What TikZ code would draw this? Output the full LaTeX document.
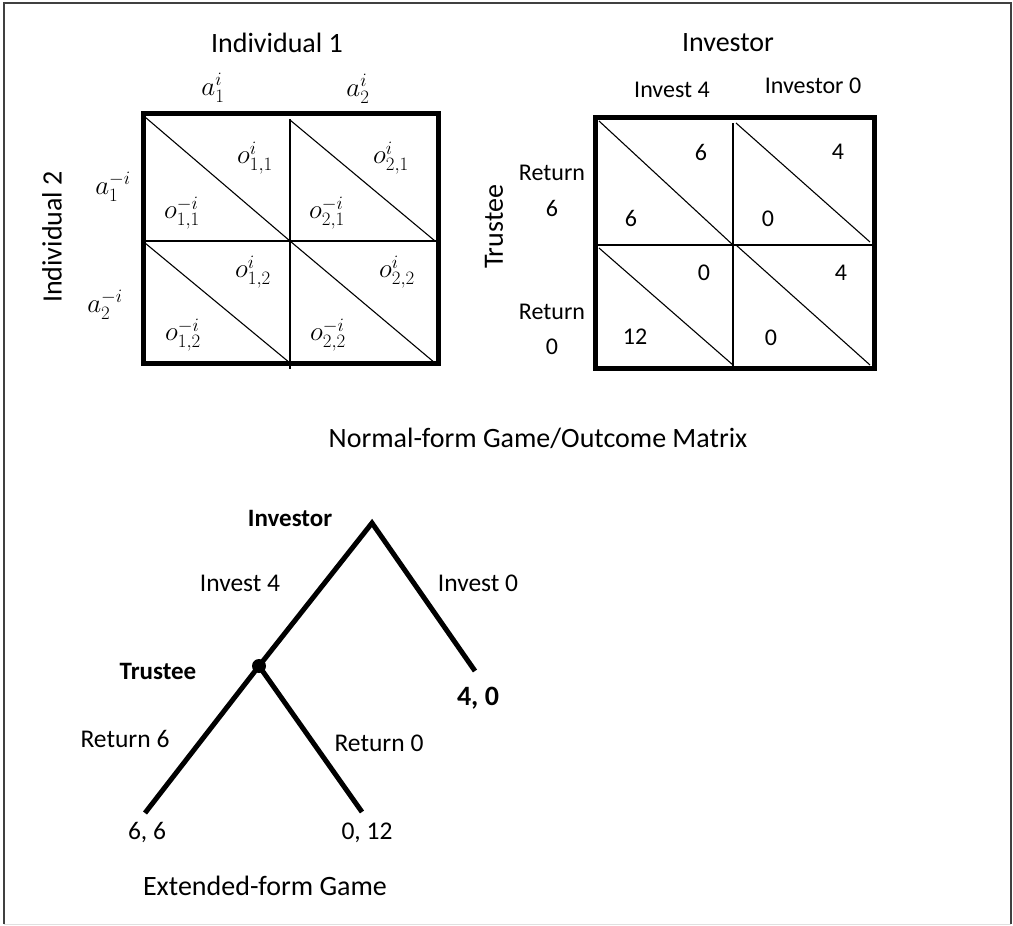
\RequirePackage{fix-cm}
\documentclass[tikz,border=0pt]{standalone}
\usepackage{fontspec}
\setmainfont{Carlito}
\begin{document}
\begin{tikzpicture}[x=1pt,y=-1pt,
  heavy/.style={line width=5pt, line join=miter},
  thin/.style={line width=1.1pt},
  branch/.style={line width=5pt},
  title/.style={font=\fontsize{28}{30}\selectfont, inner sep=0pt},
  lab/.style={font=\fontsize{24}{26}\selectfont, inner sep=0pt},
  treelab/.style={font=\fontsize{25.5}{28}\selectfont, inner sep=0pt},
  boldlab/.style={font=\fontsize{25}{27}\selectfont\bfseries, inner sep=0pt},
  val/.style={font=\fontsize{24}{26}\selectfont, inner sep=0pt},
  mlab/.style={font=\fontsize{27}{29}\selectfont, inner sep=0pt}]
\useasboundingbox (0,0) rectangle (1013,926);

% outer frame
\draw[line width=1.3pt, black!75] (4,924) -- (4,3) -- (1011,3) -- (1011,924);
\draw[line width=1pt, black!12] (4,924) -- (1011,924);

% ---------- generic outcome matrix ----------
\coordinate (A-nw) at (143,113);
\coordinate (A-se) at (438,363);
\draw[heavy] (A-nw) rectangle (A-se);
\draw[thin] (290,119) -- (290,369);
\draw[thin] (145,241) -- (436,241);
\draw[thin] (145,117) -- (290,241);
\draw[thin] (290,120) -- (435,241);
\draw[thin] (145,243) -- (290,363);
\draw[thin] (290,241) -- (435,363);

\node[title] (ind1) at (277,43) {Individual 1};
\node[title, rotate=90] (ind2) at (52,237) {Individual 2};
\node[mlab] (a1) at (213,88) {$a_1^{i}$};
\node[mlab] (a2) at (358,89) {$a_2^{i}$};
\node[mlab] (b1) at (113,187) {$a_1^{-i}$};
\node[mlab] (b2) at (105,305) {$a_2^{-i}$};
\node[mlab] (o11a) at (255,158) {$o_{1,1}^{i}$};
\node[mlab] (o11b) at (182,213) {$o_{1,1}^{-i}$};
\node[mlab] (o21a) at (391,158) {$o_{2,1}^{i}$};
\node[mlab] (o21b) at (327,213) {$o_{2,1}^{-i}$};
\node[mlab] (o12a) at (253,272) {$o_{1,2}^{i}$};
\node[mlab] (o12b) at (183,335) {$o_{1,2}^{-i}$};
\node[mlab] (o22a) at (397,272) {$o_{2,2}^{i}$};
\node[mlab] (o22b) at (328,335) {$o_{2,2}^{-i}$};

% ---------- trust game matrix ----------
\coordinate (B-nw) at (595,117);
\coordinate (B-se) at (874,368);
\draw[heavy] (B-nw) rectangle (B-se);
\draw[thin] (733,123) -- (733,371);
\draw[thin] (597,245) -- (875,245);
\draw[thin] (599,121) -- (733,245);
\draw[thin] (736,123) -- (870,242);
\draw[thin] (599,248) -- (733,365);
\draw[thin] (736,245) -- (870,365);

\node[title] (inv) at (728,43) {Investor};
\node[lab] (inv4) at (672,90) {Invest 4};
\node[lab] (inv0) at (813,86) {Investor 0};
\node[title, rotate=90] (tru) at (494,227) {Trustee};
\node[lab] (r6a) at (552,173) {Return};
\node[lab] (r6b) at (552,208) {6};
\node[lab] (r0a) at (552,312) {Return};
\node[lab] (r0b) at (552,347) {0};
\node[val] (v1) at (701,152) {6};
\node[val] (v2) at (631,218) {6};
\node[val] (v3) at (838,152) {4};
\node[val] (v4) at (768,219) {0};
\node[val] (v5) at (704,273) {0};
\node[val] (v6) at (841,273) {4};
\node[val] (v7) at (635,337) {12};
\node[val] (v8) at (771,338) {0};

\node[title] (nfg) at (538,438) {Normal-form Game/Outcome Matrix};

% ---------- extensive-form tree ----------
\coordinate (root) at (372,523);
\node[circle, fill, inner sep=0pt, minimum size=14pt] (tnode) at (259,666) {};
\coordinate (leafR) at (475,671);
\coordinate (leafA) at (145,813);
\coordinate (leafB) at (362,812);
\draw[branch] (leafA) -- (tnode.center) -- (root) -- (leafR);
\draw[branch] (tnode.center) -- (leafB);

\node[boldlab] (tinv) at (290,518) {Investor};
\node[treelab] (e4) at (240,583) {Invest 4};
\node[treelab] (e0) at (478,583) {Invest 0};
\node[boldlab] (ttru) at (158,671) {Trustee};
\node[font=\fontsize{28}{30}\selectfont\bfseries, inner sep=0pt] (p40) at (478,698) {4, 0};
\node[treelab] (e6) at (125,739) {Return 6};
\node[treelab] (e12) at (379,743) {Return 0};
\node[treelab] (p66) at (147,833) {6, 6};
\node[treelab] (p012) at (367,833) {0, 12};
\node[title] (efg) at (265,886) {Extended-form Game};
\end{tikzpicture}
\end{document}
